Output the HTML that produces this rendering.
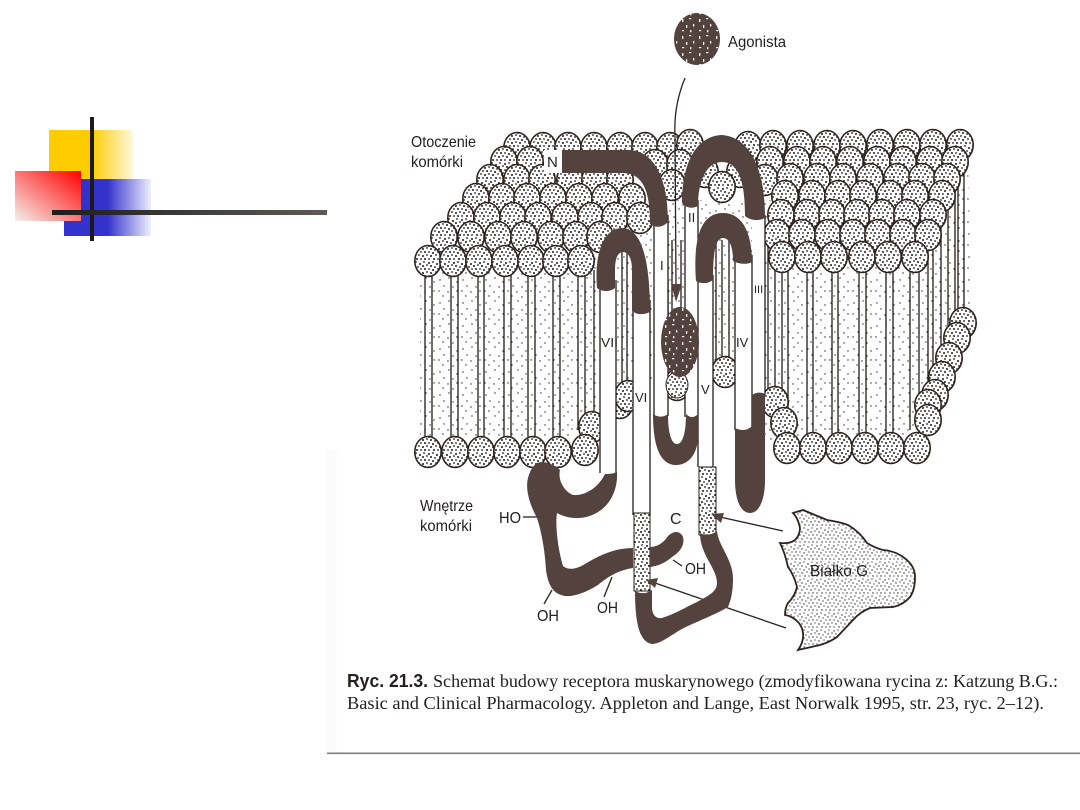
<!DOCTYPE html>
<html><head><meta charset="utf-8"><style>
html,body{margin:0;padding:0;background:#fff;width:1080px;height:810px;overflow:hidden}
svg{display:block}
text{font-family:"Liberation Sans",sans-serif;fill:#262020}
</style></head><body>
<svg width="1080" height="810" viewBox="0 0 1080 810" xmlns="http://www.w3.org/2000/svg">
<defs>
<linearGradient id="gy" x1="0" x2="1" y1="0" y2="0"><stop offset="0" stop-color="#ffcc00"/><stop offset=".5" stop-color="#ffcc00"/><stop offset="1" stop-color="#fff8dc"/></linearGradient>
<linearGradient id="gb" x1="0" x2="1" y1="0" y2="0"><stop offset="0" stop-color="#3333cc"/><stop offset=".5" stop-color="#3333cc"/><stop offset="1" stop-color="#eef"/></linearGradient>
<linearGradient id="gr" x1="1" x2="0" y1="0" y2="1"><stop offset="0" stop-color="#ff0000"/><stop offset="1" stop-color="#f4f0ec"/></linearGradient>
<linearGradient id="gl" x1="0" x2="1" y1="0" y2="0"><stop offset="0" stop-color="#1d1d1d"/><stop offset="1" stop-color="#5f5a58"/></linearGradient>
<linearGradient id="ge" x1="0" x2="1" y1="0" y2="0"><stop offset="0" stop-color="#fbfafa"/><stop offset="1" stop-color="#fff"/></linearGradient>
<pattern id="s" width="17" height="17" patternUnits="userSpaceOnUse">
<rect width="17" height="17" fill="#fff"/>
<g fill="#1f1917">
<circle cx="1" cy="2" r="1"/><circle cx="5" cy="1" r=".9"/><circle cx="9" cy="3" r="1"/><circle cx="13" cy="1" r=".9"/><circle cx="16" cy="4" r=".9"/>
<circle cx="3" cy="5" r="1"/><circle cx="7" cy="6" r=".9"/><circle cx="12" cy="5" r="1"/>
<circle cx="1" cy="8" r=".9"/><circle cx="5" cy="9" r="1"/><circle cx="10" cy="8" r=".9"/><circle cx="14" cy="8" r="1"/>
<circle cx="3" cy="12" r="1"/><circle cx="8" cy="11" r=".9"/><circle cx="12" cy="12" r="1"/><circle cx="16" cy="11" r=".9"/>
<circle cx="1" cy="15" r=".9"/><circle cx="6" cy="15" r="1"/><circle cx="10" cy="15" r=".9"/><circle cx="14" cy="15" r="1"/>
</g></pattern>
<pattern id="g" width="17" height="17" patternUnits="userSpaceOnUse">
<rect width="17" height="17" fill="#fff"/>
<g fill="#2a2220">
<circle cx="1" cy="2" r=".7"/><circle cx="5" cy="1" r=".65"/><circle cx="9" cy="3" r=".7"/><circle cx="13" cy="1" r=".65"/><circle cx="16" cy="4" r=".65"/>
<circle cx="3" cy="5" r=".7"/><circle cx="7" cy="6" r=".65"/><circle cx="12" cy="5" r=".7"/>
<circle cx="1" cy="8" r=".65"/><circle cx="5" cy="9" r=".7"/><circle cx="10" cy="8" r=".65"/><circle cx="14" cy="8" r=".7"/>
<circle cx="3" cy="12" r=".7"/><circle cx="8" cy="11" r=".65"/><circle cx="12" cy="12" r=".7"/><circle cx="16" cy="11" r=".65"/>
<circle cx="1" cy="15" r=".65"/><circle cx="6" cy="15" r=".7"/><circle cx="10" cy="15" r=".65"/><circle cx="14" cy="15" r=".7"/>
</g></pattern>
<pattern id="t" width="23" height="23" patternUnits="userSpaceOnUse">
<rect width="23" height="23" fill="#fff"/>
<g fill="#2f2826">
<circle cx="3" cy="4" r=".7"/><circle cx="12" cy="2" r=".7"/><circle cx="20" cy="6" r=".7"/>
<circle cx="7" cy="10" r=".7"/><circle cx="16" cy="11" r=".7"/>
<circle cx="2" cy="15" r=".7"/><circle cx="11" cy="16" r=".7"/><circle cx="20" cy="15" r=".7"/>
<circle cx="6" cy="20" r=".7"/><circle cx="16" cy="21" r=".7"/>
</g></pattern>
<pattern id="w" width="17" height="17" patternUnits="userSpaceOnUse">
<rect width="17" height="17" fill="#54423e"/>
<g fill="#fff"><rect x="2" y="2" width="1.4" height="3" rx=".6"/><rect x="9" y="1" width="2.4" height="1.2" rx=".6"/><rect x="6" y="8" width="1.3" height="3" rx=".6"/><rect x="13" y="7" width="1.3" height="2.6" rx=".6"/><rect x="2" y="13" width="2.2" height="1.2" rx=".6"/><rect x="10" y="13" width="1.4" height="2.4" rx=".6"/></g></pattern>
<ellipse id="h" rx="13.2" ry="15.5" fill="url(#s)" stroke="#2e2320" stroke-width="1.6"/>
</defs>

<!-- scan edge -->
<rect x="327" y="450" width="18" height="303" fill="url(#ge)"/>

<!-- corner decoration -->
<rect x="49" y="130" width="84" height="50" fill="url(#gy)"/>
<rect x="64" y="179" width="87" height="57" fill="url(#gb)"/>
<rect x="15" y="171" width="66" height="50" fill="url(#gr)"/>
<rect x="90" y="117" width="4" height="124" fill="#1c1a1a"/>
<rect x="52" y="210" width="275" height="5" fill="url(#gl)"/>

<rect x="327" y="752.5" width="753" height="1.6" fill="#7d7d7d"/>

<!-- tail stipple -->
<polygon points="420,255 600,255 600,436 420,436" fill="url(#t)"/>
<polygon points="600,200 775,200 775,440 765,440 735,372 713,372 713,395 668,395 668,400 615,400 615,230 600,230" fill="url(#t)"/>
<polygon points="765,230 968,160 972,320 930,425 905,448 790,448 765,410" fill="url(#t)"/>

<g stroke="#231c1a" stroke-width="1.3">
<path d="M948 170V355M955 170V345M941 200V375M933 240V395M928 240V410M958 160V330M964 170V320M919 260V425M910 260V430M893 260V435M886 260V435M866 260V435M859 260V435M838 260V435M832 260V435M813 260V435M807 260V435M788 260V415M782 260V410M775 260V400M768 240V395"/>
<path d="M425 270V440M432 270V440M451 270V440M458 270V440M478 270V440M484 270V440M504 270V440M511 270V440M528 270V440M535 270V440M553 270V440M560 270V440M578 270V430M585 270V425M594 270V415"/>
<path d="M622 250V395M627 250V395M637 250V395M668 280V395M672 240V385M681 240V385M687 210V395M716 240V372M722 240V372M729 240V372"/>
</g>

<!-- left block heads -->
<g>
<use href="#h" x="517" y="148"/><use href="#h" x="543" y="148"/><use href="#h" x="568" y="148"/><use href="#h" x="594" y="148"/><use href="#h" x="620" y="148"/><use href="#h" x="645" y="148"/><use href="#h" x="670" y="148"/><use href="#h" x="690" y="145"/>
<use href="#h" x="504" y="162"/><use href="#h" x="530" y="162"/><use href="#h" x="655" y="165"/><use href="#h" x="680" y="165"/>
<use href="#h" x="490" y="180"/><use href="#h" x="517" y="180"/><use href="#h" x="542" y="180"/><use href="#h" x="570" y="180"/><use href="#h" x="595" y="180"/><use href="#h" x="620" y="180"/><use href="#h" x="672" y="185"/>
<use href="#h" x="476" y="199"/><use href="#h" x="502" y="199"/><use href="#h" x="527" y="199"/><use href="#h" x="553" y="199"/><use href="#h" x="579" y="199"/><use href="#h" x="605" y="199"/><use href="#h" x="632" y="199"/>
<use href="#h" x="461" y="218"/><use href="#h" x="487" y="218"/><use href="#h" x="513" y="218"/><use href="#h" x="538" y="218"/><use href="#h" x="565" y="218"/><use href="#h" x="591" y="218"/><use href="#h" x="615" y="218"/><use href="#h" x="640" y="218"/>
<use href="#h" x="444" y="237"/><use href="#h" x="471" y="237"/><use href="#h" x="498" y="237"/><use href="#h" x="524" y="237"/><use href="#h" x="551" y="237"/><use href="#h" x="576" y="237"/><use href="#h" x="600" y="237"/>
<use href="#h" x="428" y="261"/><use href="#h" x="453" y="261"/><use href="#h" x="479" y="261"/><use href="#h" x="505" y="261"/><use href="#h" x="531" y="261"/><use href="#h" x="556" y="261"/><use href="#h" x="581" y="261"/>
</g>
<!-- right block heads -->
<g>
<use href="#h" x="748" y="147"/><use href="#h" x="773" y="146"/><use href="#h" x="800" y="146"/><use href="#h" x="827" y="146"/><use href="#h" x="853" y="146"/><use href="#h" x="880" y="145"/><use href="#h" x="907" y="145"/><use href="#h" x="933" y="145"/><use href="#h" x="960" y="145"/>
<use href="#h" x="770" y="162"/><use href="#h" x="797" y="162"/><use href="#h" x="823" y="162"/><use href="#h" x="850" y="162"/><use href="#h" x="877" y="162"/><use href="#h" x="903" y="162"/><use href="#h" x="930" y="162"/><use href="#h" x="955" y="162"/>
<use href="#h" x="765" y="180"/><use href="#h" x="790" y="179"/><use href="#h" x="817" y="179"/><use href="#h" x="843" y="179"/><use href="#h" x="870" y="179"/><use href="#h" x="897" y="179"/><use href="#h" x="922" y="179"/><use href="#h" x="947" y="179"/>
<use href="#h" x="785" y="196"/><use href="#h" x="812" y="196"/><use href="#h" x="838" y="196"/><use href="#h" x="863" y="196"/><use href="#h" x="890" y="196"/><use href="#h" x="915" y="196"/><use href="#h" x="942" y="196"/>
<use href="#h" x="781" y="215"/><use href="#h" x="807" y="215"/><use href="#h" x="832" y="215"/><use href="#h" x="857" y="215"/><use href="#h" x="882" y="215"/><use href="#h" x="907" y="215"/><use href="#h" x="933" y="215"/>
<use href="#h" x="777" y="235"/><use href="#h" x="802" y="235"/><use href="#h" x="828" y="235"/><use href="#h" x="853" y="235"/><use href="#h" x="878" y="235"/><use href="#h" x="903" y="235"/><use href="#h" x="928" y="235"/>
<use href="#h" x="782" y="257"/><use href="#h" x="808" y="257"/><use href="#h" x="834" y="257"/><use href="#h" x="862" y="257"/><use href="#h" x="888" y="257"/><use href="#h" x="915" y="257"/>
<use href="#h" x="705" y="172"/><use href="#h" x="740" y="172"/><use href="#h" x="722" y="187"/>
</g>

<!-- edge / bottom heads -->
<g>
<use href="#h" x="963" y="323"/><use href="#h" x="957" y="338"/><use href="#h" x="949" y="358"/><use href="#h" x="942" y="377"/><use href="#h" x="935" y="395"/><use href="#h" x="928" y="405"/><use href="#h" x="928" y="420"/>
<use href="#h" x="775" y="402"/><use href="#h" x="784" y="423"/>
<use href="#h" x="787" y="448"/><use href="#h" x="813" y="448"/><use href="#h" x="839" y="448"/><use href="#h" x="865" y="448"/><use href="#h" x="891" y="448"/><use href="#h" x="917" y="448"/>
<use href="#h" x="592" y="427"/>
<use href="#h" x="428" y="452"/><use href="#h" x="455" y="452"/><use href="#h" x="481" y="452"/><use href="#h" x="507" y="452"/><use href="#h" x="533" y="452"/><use href="#h" x="558" y="452"/><use href="#h" x="585" y="450"/>
<use href="#h" x="620" y="403"/><use href="#h" x="628" y="396"/><use href="#h" x="725" y="372"/><use href="#h" x="677" y="385"/>
</g>

<!-- white helices -->
<g fill="#fff">
<rect x="600" y="280" width="16" height="193"/>
<rect x="633" y="300" width="17" height="215"/>
<rect x="654" y="215" width="14" height="201"/>
<rect x="685" y="200" width="13" height="217"/>
<rect x="698" y="275" width="15" height="195"/>
<rect x="735" y="255" width="17" height="175"/>
<rect x="752" y="215" width="13" height="180"/>
</g>
<path d="M600 280V473M616 280V473M633 300V515M650 300V515M654 215V416M668 215V416M685 200V417M698 200V467M713 275V467M735 255V430M752 255V430M765 215V395" stroke="#231c1a" stroke-width="1.3" fill="none"/>
<ellipse cx="677" cy="385" rx="11" ry="13" fill="url(#s)" stroke="#2e2320"/>
<rect x="634" y="513" width="16" height="78" fill="url(#s)" stroke="#231c1a"/>
<rect x="699" y="467" width="17" height="68" fill="url(#s)" stroke="#231c1a"/>

<!-- lines beneath the loops -->
<g fill="none" stroke="#2a2220" stroke-width="1.3">
<path d="M685 78C678 95 674 115 675 135L676 285"/>
<path d="M783 531L720 517"/>
<path d="M786 628L655 583"/>
<path d="M523 517H538"/>
<path d="M552 590L544 604"/>
<path d="M612 577L604 597"/>
<path d="M673 560L682 566"/>
</g>

<!-- dark loops -->
<g fill="#54423e">
<path d="M562 150H628C655 150 668 180 668 222C662 228 655 228 650 224C650 195 645 175 625 173H562Z"/>
<path d="M682 203C682 165 695 136 722 135C748 137 765 165 765 218C759 221 751 221 745 216C745 180 738 162 722 162C707 162 698 180 698 206C692 209 686 208 682 203Z"/>
<path d="M696 281C693 240 700 213 723 213C742 213 752 232 752 262C747 265 738 264 733 261C733 248 730 238 723 238C716 238 713 250 713 280C708 284 701 284 696 281Z"/>
<path d="M597 288C594 250 605 228 622 228C640 228 650 255 650 312C644 315 637 315 632 311L632 270C632 258 628 252 623 252C618 252 615 258 615 270V288C610 292 602 292 597 288Z"/>
<path d="M653 414C659 418 664 417 668 414C668 432 671 444 677 444C683 444 686 432 686 414C690 418 694 418 698 414V435C698 455 688 465 676 465C662 465 653 450 653 414Z"/>
<path d="M735 428C741 431 747 431 752 426V395C756 392 761 392 765 394V480C765 498 760 513 750 513C740 513 735 498 735 480Z"/>
<path d="M700 533C705 536 712 535 717 531C718 545 733 560 733 578C733 592 731 600 728 607C715 615 695 622 680 630C670 636 660 644 652 644C640 642 635 625 635 591C640 594 647 594 652 590V607C652 615 656 619 662 618C675 614 686 607 697 602C708 596 717 592 717 583C717 568 700 555 700 533Z"/>
<path d="M537 463C545 460 555 465 560 470C558 478 562 490 573 495C585 496 598 488 605 474C608 474 613 474 617 472C618 490 610 505 598 512C585 520 570 520 557 513C555 525 558 550 563 566C568 570 575 570 585 564C600 555 615 548 633 548V568C620 570 610 575 598 585C585 593 573 597 565 596C553 594 548 585 546 570C545 550 541 530 537 518C530 505 525 490 528 478C530 470 533 466 537 463Z"/>
<path d="M650 547C658 547 664 542 668 536C673 531 680 530 683 537C685 545 680 552 672 557C665 563 658 566 650 567Z"/>
</g>
<ellipse cx="680" cy="342" rx="19" ry="35" fill="url(#w)"/>
<ellipse cx="697" cy="39" rx="23" ry="26" fill="url(#w)"/>

<g fill="#54423e">
<polygon points="671,284 682,284 676,302"/>
<polygon points="711,514 724,513 721,523"/>
<polygon points="646,580 658,578 655,588"/>
</g>

<!-- G protein -->
<path d="M793 513L803 510L815 515L827 520Q840 522 848 525Q860 532 867 543Q875 548 883 550Q895 551 903 557Q915 565 915 577Q915 590 910 597Q903 605 893 607L870 608Q860 612 853 620L837 637Q830 642 820 645L798 650Q804 642 803 633Q802 626 798 622Q792 616 785 615Q785 608 788 603Q795 596 797 587Q794 575 788 567Q785 553 780 543Q790 544 795 540Q800 535 800 528Q798 518 793 513Z" fill="url(#g)" stroke="#2e2320" stroke-width="1.8"/>

<!-- N patch -->
<rect x="544" y="150" width="18" height="23" fill="#fff"/>

<!-- helix labels -->
<g font-size="13">
<text x="601" y="347" textLength="17" lengthAdjust="spacingAndGlyphs">VII</text>
<text x="660" y="270">I</text>
<text x="688" y="222">II</text>
<text x="754" y="293" font-size="11">III</text>
<text x="736" y="347">IV</text>
<text x="701" y="394">V</text>
<text x="635" y="402">VI</text>
</g>
<text x="547" y="167" font-size="15">N</text>

<!-- labels -->
<g font-size="16">
<text x="728" y="47" textLength="58" lengthAdjust="spacingAndGlyphs">Agonista</text>
<text x="411" y="147" textLength="65" lengthAdjust="spacingAndGlyphs">Otoczenie</text>
<text x="411" y="167" textLength="52" lengthAdjust="spacingAndGlyphs">komórki</text>
<text x="420" y="511" textLength="53" lengthAdjust="spacingAndGlyphs" style="font-family:'Liberation Sans','Noto Sans CJK SC',sans-serif">Wnętrze</text>
<text x="420" y="531" textLength="52" lengthAdjust="spacingAndGlyphs">komórki</text>
<text x="499" y="523" textLength="22" lengthAdjust="spacingAndGlyphs">HO</text>
<text x="670" y="524">C</text>
<text x="685" y="574" textLength="21" lengthAdjust="spacingAndGlyphs">OH</text>
<text x="537" y="621" textLength="22" lengthAdjust="spacingAndGlyphs">OH</text>
<text x="597" y="613" textLength="21" lengthAdjust="spacingAndGlyphs">OH</text>
<text x="810" y="576" textLength="58" lengthAdjust="spacingAndGlyphs">Białko G</text>
</g>

<!-- caption -->
<text x="347" y="687" font-size="18" font-weight="bold" textLength="81" lengthAdjust="spacingAndGlyphs">Ryc. 21.3.</text>
<text x="433" y="687" font-size="18" textLength="625" lengthAdjust="spacingAndGlyphs" style="font-family:'Liberation Serif',serif">Schemat budowy receptora muskarynowego (zmodyfikowana rycina z: Katzung B.G.:</text>
<text x="347" y="709" font-size="18" textLength="697" lengthAdjust="spacingAndGlyphs" style="font-family:'Liberation Serif',serif">Basic and Clinical Pharmacology. Appleton and Lange, East Norwalk 1995, str. 23, ryc. 2–12).</text>
</svg>
</body></html>
